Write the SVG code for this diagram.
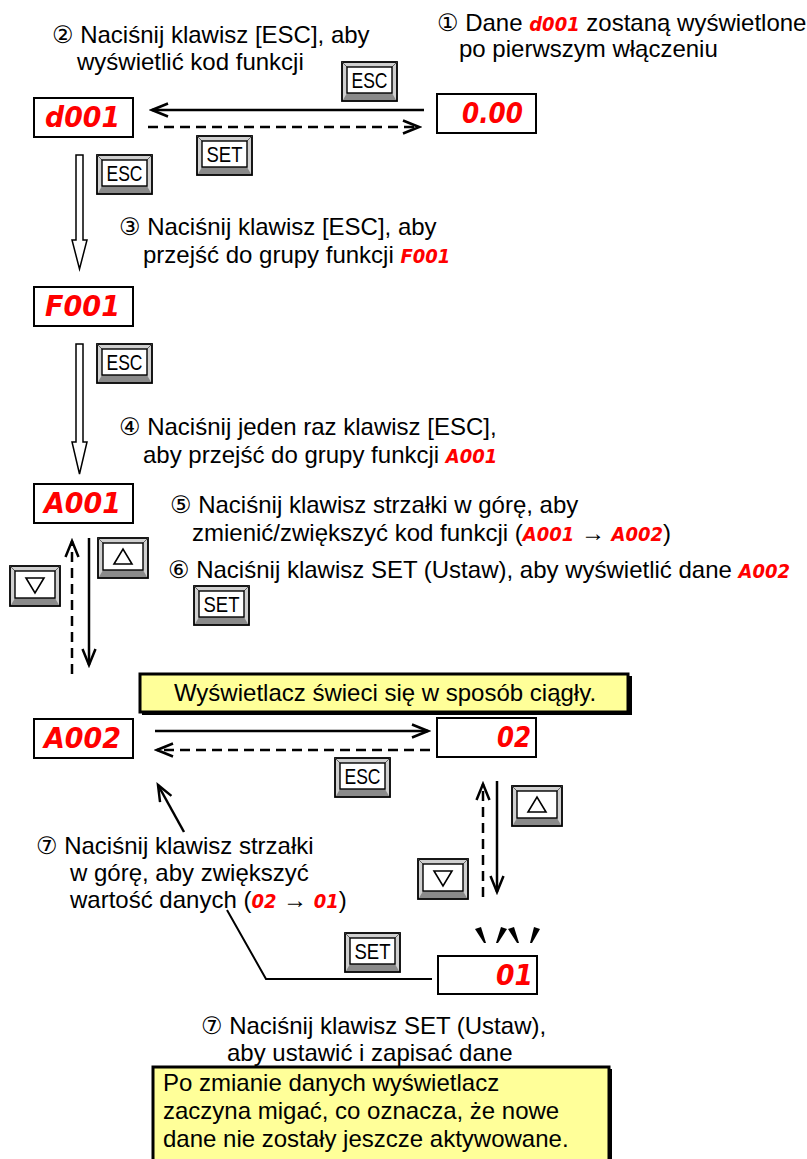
<svg xmlns="http://www.w3.org/2000/svg" width="807" height="1159" viewBox="0 0 807 1159">
<style>
.t{font-family:"Liberation Sans",Arial,"DejaVu Sans",sans-serif;font-size:24px;fill:#000}
.seg{font-family:"Liberation Sans Narrow","DejaVu Sans Condensed","Liberation Sans",sans-serif;font-weight:bold;font-style:italic;fill:#ff0000}
.disp{fill:#fff;stroke:#000;stroke-width:2}
.kout{fill:#d0d0d0;stroke:#000;stroke-width:1.8}
.kbot{fill:#8a8a8a}
.kdg{stroke:#444;stroke-width:0.8}
.kin{fill:#fff;stroke:#000;stroke-width:1.4}
.kt{font-family:"Liberation Sans Narrow","Liberation Sans",sans-serif;font-size:22px;fill:#000;text-anchor:middle}
.tri{fill:#fff;stroke:#000;stroke-width:1.6}
.ln{fill:none;stroke:#000;stroke-width:2.5;stroke-linejoin:miter}
.dash{stroke-dasharray:10 6}
.thin{fill:none;stroke:#000;stroke-width:2}
.hollow{fill:#fff;stroke:#000;stroke-width:1.5}
.yb{fill:#ffff99;stroke:#000;stroke-width:3}
.sh{fill:#000}
.blink{fill:#000}
</style>
<defs>
<marker id="chev" markerUnits="userSpaceOnUse" markerWidth="20" markerHeight="16" refX="17" refY="8" orient="auto">
<path d="M1,1.5 L17,8 L1,14.5" fill="none" stroke="#000" stroke-width="2.5" stroke-dasharray="none"/>
</marker>
<g id="keyT">
<rect class="kout" x="0" y="0" width="55" height="39"/>
<polygon class="kbot" points="1,38 54,38 50,31 5,31"/>
<line class="kdg" x1="0" y1="0" x2="5" y2="5"/>
<line class="kdg" x1="55" y1="0" x2="50" y2="5"/>
<rect class="kin" x="5" y="5" width="45" height="26"/>
</g>
<g id="keyA">
<rect class="kout" x="0" y="0" width="50" height="40"/>
<polygon class="kbot" points="1,39 49,39 45,32 5,32"/>
<line class="kdg" x1="0" y1="0" x2="5" y2="5"/>
<line class="kdg" x1="50" y1="0" x2="45" y2="5"/>
<rect class="kin" x="5" y="5" width="40" height="27"/>
</g>
</defs>

<!-- texts -->
<g id="notes">
<text class="t" x="52" y="43">② Naciśnij klawisz [ESC], aby</text>
<text class="t" x="77" y="70">wyświetlić kod funkcji</text>
<text class="t" x="437" y="31">① Dane <tspan class="seg" font-size="20">d001</tspan> zostaną wyświetlone</text>
<text class="t" x="459" y="57">po pierwszym włączeniu</text>
<text class="t" x="119" y="235">③ Naciśnij klawisz [ESC], aby</text>
<text class="t" x="143" y="263">przejść do grupy funkcji <tspan class="seg" font-size="20">F001</tspan></text>
<text class="t" x="119" y="435">④ Naciśnij jeden raz klawisz [ESC],</text>
<text class="t" x="143" y="463">aby przejść do grupy funkcji <tspan class="seg" font-size="20">A001</tspan></text>
<text class="t" x="170" y="513">⑤ Naciśnij klawisz strzałki w górę, aby</text>
<text class="t" x="192" y="541">zmienić/zwiększyć kod funkcji (<tspan class="seg" font-size="20">A001</tspan> → <tspan class="seg" font-size="20">A002</tspan>)</text>
<text class="t" x="168" y="578">⑥ Naciśnij klawisz SET (Ustaw), aby wyświetlić dane <tspan class="seg" font-size="20">A002</tspan></text>
<text class="t" x="36" y="854">⑦ Naciśnij klawisz strzałki</text>
<text class="t" x="70" y="881">w górę, aby zwiększyć</text>
<text class="t" x="70" y="908">wartość danych (<tspan class="seg" font-size="20">02</tspan> → <tspan class="seg" font-size="20">01</tspan>)</text>
<text class="t" x="201" y="1034">⑦ Naciśnij klawisz SET (Ustaw),</text>
<text class="t" x="227" y="1061">aby ustawić i zapisać dane</text>
</g>

<g id="note-steady">
<rect class="sh" x="142" y="676" width="490" height="39"/>
<rect class="yb" x="140" y="674" width="488" height="38"/>
<text class="t" x="385" y="701" text-anchor="middle">Wyświetlacz świeci się w sposób ciągły.</text>
</g>

<g id="note-blink">
<rect class="sh" x="155" y="1069" width="457" height="100"/>
<rect class="yb" x="153" y="1067" width="456" height="100"/>
<text class="t" x="163" y="1091">Po zmianie danych wyświetlacz</text>
<text class="t" x="163" y="1119">zaczyna migać, co oznacza, że nowe</text>
<text class="t" x="163" y="1147">dane nie zostały jeszcze aktywowane.</text>
</g>

<!-- displays -->
<g id="disp-d001"><rect class="disp" x="34" y="98" width="99" height="39"/><text class="seg" x="45" y="127" font-size="28" textLength="75" lengthAdjust="spacingAndGlyphs">d001</text></g>
<g id="disp-000"><rect class="disp" x="437" y="94" width="99" height="39"/><text class="seg" x="462" y="123" font-size="28" textLength="61" lengthAdjust="spacingAndGlyphs">0.00</text></g>
<g id="disp-F001"><rect class="disp" x="34" y="287" width="99" height="39"/><text class="seg" x="45" y="316" font-size="28" textLength="75" lengthAdjust="spacingAndGlyphs">F001</text></g>
<g id="disp-A001"><rect class="disp" x="34" y="484" width="99" height="39"/><text class="seg" x="44" y="513" font-size="28" textLength="77" lengthAdjust="spacingAndGlyphs">A001</text></g>
<g id="disp-A002"><rect class="disp" x="34" y="719" width="99" height="39"/><text class="seg" x="44" y="748" font-size="28" textLength="77" lengthAdjust="spacingAndGlyphs">A002</text></g>
<g id="disp-02"><rect class="disp" x="437" y="718" width="99" height="39"/><text class="seg" x="497" y="747" font-size="28" textLength="34" lengthAdjust="spacingAndGlyphs">02</text></g>
<g id="disp-01"><rect class="disp" x="438" y="956" width="99" height="38"/><text class="seg" x="496" y="985" font-size="28" textLength="37" lengthAdjust="spacingAndGlyphs">01</text>
<polygon class="blink" points="475,929 481,927 486,943 484,943"/>
<polygon class="blink" points="501,927 507,929 498,943 496,943"/>
<polygon class="blink" points="508,929 514,927 519,943 517,943"/>
<polygon class="blink" points="534,927 540,929 532,943 530,943"/>
</g>

<!-- keys -->
<g id="key-esc-top" transform="translate(342,62)"><use href="#keyT"/><text class="kt" x="27.5" y="26" textLength="36" lengthAdjust="spacingAndGlyphs">ESC</text></g>
<g id="key-set-top" transform="translate(197,136)"><use href="#keyT"/><text class="kt" x="27.5" y="26" textLength="36" lengthAdjust="spacingAndGlyphs">SET</text></g>
<g id="key-esc-1" transform="translate(97,155)"><use href="#keyT"/><text class="kt" x="27.5" y="26" textLength="36" lengthAdjust="spacingAndGlyphs">ESC</text></g>
<g id="key-esc-2" transform="translate(97,344)"><use href="#keyT"/><text class="kt" x="27.5" y="26" textLength="36" lengthAdjust="spacingAndGlyphs">ESC</text></g>
<g id="key-up-1" transform="translate(98,538)"><use href="#keyA"/><polygon class="tri" points="16,26 34,26 25,11"/></g>
<g id="key-down-1" transform="translate(10,566)"><use href="#keyA"/><polygon class="tri" points="16,12 34,12 25,27"/></g>
<g id="key-set-2" transform="translate(194,586)"><use href="#keyT"/><text class="kt" x="27.5" y="26" textLength="36" lengthAdjust="spacingAndGlyphs">SET</text></g>
<g id="key-esc-3" transform="translate(335,758)"><use href="#keyT"/><text class="kt" x="27.5" y="26" textLength="36" lengthAdjust="spacingAndGlyphs">ESC</text></g>
<g id="key-up-2" transform="translate(512,786)"><use href="#keyA"/><polygon class="tri" points="16,26 34,26 25,11"/></g>
<g id="key-down-2" transform="translate(418,859)"><use href="#keyA"/><polygon class="tri" points="16,12 34,12 25,27"/></g>
<g id="key-set-3" transform="translate(345,933)"><use href="#keyT"/><text class="kt" x="27.5" y="26" textLength="36" lengthAdjust="spacingAndGlyphs">SET</text></g>

<!-- connectors -->
<g id="connectors">
<path class="ln" d="M424,110 L152,110" marker-end="url(#chev)"/>
<path class="ln dash" d="M148,127 L419,127" marker-end="url(#chev)"/>
<polygon class="hollow" points="76,155 83,155 83,240 87,240 79.5,269 72,240 76,240"/>
<polygon class="hollow" points="76,344 83,344 83,442 87,442 79.5,474 72,442 76,442"/>
<path class="ln dash" d="M72,674 L72,541" marker-end="url(#chev)"/>
<path class="ln" d="M89,538 L89,665" marker-end="url(#chev)"/>
<path class="ln" d="M155,731 L428,731" marker-end="url(#chev)"/>
<path class="ln dash" d="M430,750 L157,750" marker-end="url(#chev)"/>
<path class="ln dash" d="M483,897 L483,784" marker-end="url(#chev)"/>
<path class="ln" d="M497,781 L497,892" marker-end="url(#chev)"/>
<path class="ln" d="M184,832 L158,785" marker-end="url(#chev)"/>
<path class="thin" d="M227,910 L266,979 L432,979"/>
</g>
</svg>
